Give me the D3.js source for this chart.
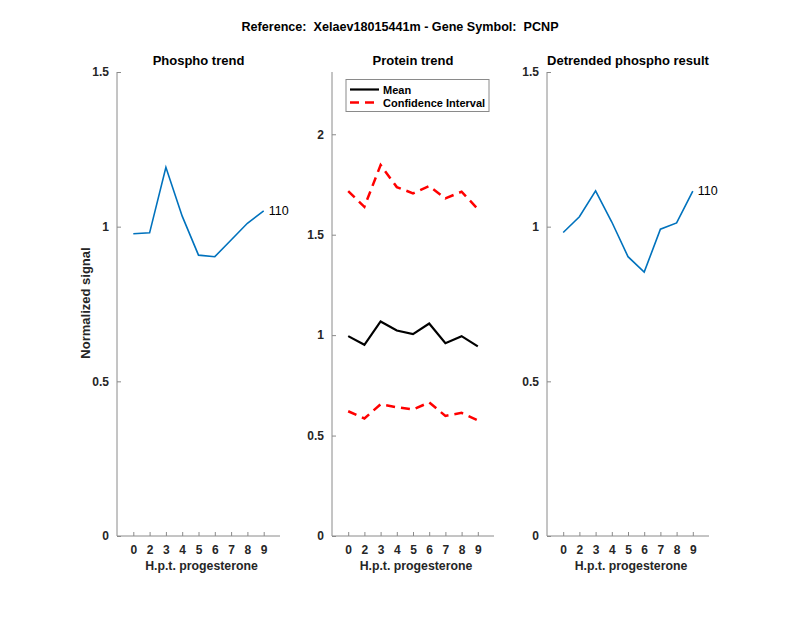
<!DOCTYPE html>
<html>
<head>
<meta charset="utf-8">
<script src="https://cdn.jsdelivr.net/npm/d3@7"></script>
<style>
  body { margin: 0; background: #fff; }
  svg { font-family: "Liberation Sans", Arial, sans-serif; }
  .tick text { font-weight: bold; fill: #262626; font-size: 12px; }
  .ttl { font-weight: bold; font-size: 13px; fill: #000; white-space: pre; }
  .lab { font-weight: bold; font-size: 12.3px; fill: #262626; }
</style>
</head>
<body>
<div id="chart"></div>
<script>
// data
const timeLabels = ["0", "2", "3", "4", "5", "6", "7", "8", "9"];
const phospho = [0.977, 0.980, 1.192, 1.034, 0.908, 0.903, 0.957, 1.011, 1.051];
const proteinMean = [0.995, 0.952, 1.068, 1.023, 1.005, 1.058, 0.960, 0.995, 0.944];
const proteinUpper = [1.717, 1.639, 1.847, 1.737, 1.706, 1.742, 1.681, 1.714, 1.628];
const proteinLower = [0.621, 0.585, 0.656, 0.641, 0.630, 0.665, 0.598, 0.613, 0.576];
const detrended = [0.981, 1.032, 1.116, 1.015, 0.903, 0.853, 0.992, 1.012, 1.115];
const phosphoTicks = [0, 0.5, 1, 1.5];
const proteinTicks = [0, 0.5, 1, 1.5, 2];
const siteLabel = "110";

const width = 800, height = 618;
const svg = d3.select("#chart").append("svg")
  .attr("width", width).attr("height", height);

const yTop = 72, yBottom = 536;
const panels = [
  { left: 117, right: 280, title: "Phospho trend", ymax: 1.5, ticks: phosphoTicks },
  { left: 332, right: 494, title: "Protein trend", ymax: 2.31, ticks: proteinTicks },
  { left: 547, right: 709, title: "Detrended phospho result", ymax: 1.5, ticks: phosphoTicks }
];

const blue = "#0072BD";

// main title
svg.append("text").attr("class", "ttl")
  .attr("x", width / 2).attr("y", 31)
  .attr("text-anchor", "middle").style("font-size", "12.6px")
  .text("Reference:  Xelaev18015441m - Gene Symbol:  PCNP");

const makePanel = (p) => {
  const x = d3.scaleLinear().domain([0, 10]).range([p.left, p.right]);
  const y = d3.scaleLinear().domain([0, p.ymax]).range([yBottom, yTop]);
  const g = svg.append("g");

  // y axis (ticks inward)
  const ya = g.append("g").attr("transform", `translate(${p.left},0)`)
    .call(d3.axisLeft(y).tickValues(p.ticks).tickSize(-4).tickPadding(8)
      .tickFormat(d3.format("")));
  // x axis
  const xa = g.append("g").attr("transform", `translate(0,${yBottom})`)
    .call(d3.axisBottom(x).tickValues(d3.range(1, 10)).tickSize(-4).tickPadding(9)
      .tickFormat((d) => timeLabels[d - 1]));
  [ya, xa].forEach((a) => {
    a.select(".domain").attr("stroke", "#8a8a8a").attr("stroke-width", 1);
    a.selectAll(".tick line").attr("stroke", "#8a8a8a");
  });
  ya.select(".domain").attr("d", `M0,${yTop}V${yBottom}`);
  xa.select(".domain").attr("d", `M${p.left},0H${p.right}`);

  g.append("text").attr("class", "ttl")
    .attr("x", (p.left + p.right) / 2).attr("y", 65)
    .attr("text-anchor", "middle").text(p.title);

  g.append("text").attr("class", "lab")
    .attr("x", (p.left + p.right) / 2 + 3).attr("y", 570)
    .attr("text-anchor", "middle").text("H.p.t. progesterone");

  return { g, x, y };
};

const lineOf = (x, y) => d3.line().x((d, i) => x(i + 1)).y((d) => y(d));

// panel 1: phospho trend
const p1 = makePanel(panels[0]);
p1.g.append("path").datum(phospho)
  .attr("d", lineOf(p1.x, p1.y)).attr("fill", "none")
  .attr("stroke", blue).attr("stroke-width", 1.6);
p1.g.append("text").attr("x", p1.x(9) + 5).attr("y", p1.y(phospho[8]) + 4)
  .style("font-size", "12.5px").attr("fill", "#000").text(siteLabel);

svg.append("text").attr("class", "lab")
  .style("font-size", "13px")
  .attr("transform", `translate(90,303) rotate(-90)`)
  .attr("text-anchor", "middle").text("Normalized signal");

// panel 2: protein trend
const p2 = makePanel(panels[1]);
[proteinUpper, proteinLower].forEach((s) => {
  p2.g.append("path").datum(s)
    .attr("d", lineOf(p2.x, p2.y)).attr("fill", "none")
    .attr("stroke", "#FF0000").attr("stroke-width", 2.5)
    .attr("stroke-dasharray", "9,6");
});
p2.g.append("path").datum(proteinMean)
  .attr("d", lineOf(p2.x, p2.y)).attr("fill", "none")
  .attr("stroke", "#000").attr("stroke-width", 2.2);

// legend
const lg = p2.g.append("g").attr("transform", "translate(346,79.5)");
lg.append("rect").attr("width", 143).attr("height", 32)
  .attr("fill", "#fff").attr("stroke", "#8a8a8a").attr("stroke-width", 1);
lg.append("line").attr("x1", 4).attr("x2", 33).attr("y1", 10).attr("y2", 10)
  .attr("stroke", "#000").attr("stroke-width", 2.2);
lg.append("line").attr("x1", 4).attr("x2", 33).attr("y1", 23).attr("y2", 23)
  .attr("stroke", "#FF0000").attr("stroke-width", 2.5).attr("stroke-dasharray", "9,6");
lg.append("text").attr("x", 37).attr("y", 14).style("font-size", "11px")
  .style("font-weight", "bold").text("Mean");
lg.append("text").attr("x", 37).attr("y", 27).style("font-size", "11px")
  .style("font-weight", "bold").text("Confidence Interval");

// panel 3: detrended
const p3 = makePanel(panels[2]);
p3.g.append("path").datum(detrended)
  .attr("d", lineOf(p3.x, p3.y)).attr("fill", "none")
  .attr("stroke", blue).attr("stroke-width", 1.6);
p3.g.append("text").attr("x", p3.x(9) + 5).attr("y", p3.y(detrended[8]) + 4)
  .style("font-size", "12.5px").attr("fill", "#000").text(siteLabel);
</script>
</body>
</html>
